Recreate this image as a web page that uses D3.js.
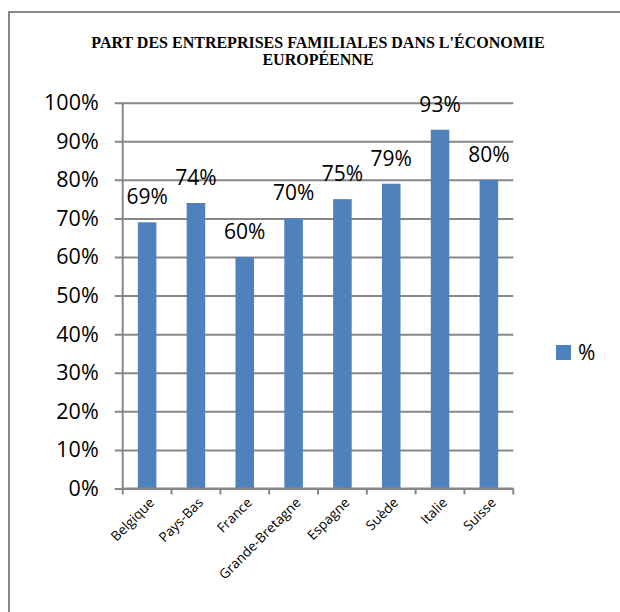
<!DOCTYPE html>
<html>
<head>
<meta charset="utf-8">
<script src="https://cdn.jsdelivr.net/npm/d3@7"></script>
<style>
  body { margin: 0; background: #fff; }
  svg { display: block; }
  .title { font-family: "Liberation Serif", "Times New Roman", serif; font-weight: bold; font-size: 16px; }
  .tick text, .value-label, .legend-label, .x-label { font-family: "Open Sans", sans-serif; fill: #000; }
</style>
</head>
<body>
<div id="wrapper"></div>
<script>
const countries = ["Belgique", "Pays-Bas", "France", "Grande-Bretagne", "Espagne", "Suède", "Italie", "Suisse"]
const shares = [69, 74, 60, 70, 75, 79, 93, 80]
const yTicks = [0, 10, 20, 30, 40, 50, 60, 70, 80, 90, 100]
const seriesName = "%"
const titleLines = ["PART DES ENTREPRISES FAMILIALES DANS L'ÉCONOMIE", "EUROPÉENNE"]

function drawChart() {

  // 1. Dimensions

  const dimensions = {
    width: 620,
    height: 612,
    margin: { top: 102.7, left: 122.7, right: 620 - 513.3, bottom: 612 - 488.5 },
  }
  dimensions.boundedWidth = dimensions.width - dimensions.margin.left - dimensions.margin.right
  dimensions.boundedHeight = dimensions.height - dimensions.margin.top - dimensions.margin.bottom

  const blue = "#4f81bd"
  const grey = "#878787"

  // 2. Canvas

  const wrapper = d3.select("#wrapper")
    .append("svg")
      .attr("width", dimensions.width)
      .attr("height", dimensions.height)

  // outer frame (right and bottom edges run off the page)
  wrapper.append("rect")
      .attr("x", 9)
      .attr("y", 12)
      .attr("width", 640)
      .attr("height", 640)
      .attr("fill", "none")
      .attr("stroke", grey)
      .attr("stroke-width", 2)

  const title = wrapper.append("text")
      .attr("class", "title")
      .attr("text-anchor", "middle")
  title.selectAll("tspan")
    .data(titleLines)
    .join("tspan")
      .attr("x", 318)
      .attr("y", (d, i) => 48 + i * 17)
      .text(d => d)

  const bounds = wrapper.append("g")
      .attr("transform", `translate(${dimensions.margin.left},${dimensions.margin.top})`)

  // 3. Scales

  const xScale = d3.scaleBand()
    .domain(countries)
    .range([0, dimensions.boundedWidth])
    .paddingInner(0.62)
    .paddingOuter(0.31)

  const yScale = d3.scaleLinear()
    .domain([0, 100])
    .range([dimensions.boundedHeight, 0])

  // 4. Gridlines + y axis

  const yAxisGenerator = d3.axisLeft(yScale)
    .tickValues(yTicks)
    .tickSize(-dimensions.boundedWidth)
    .tickSizeOuter(0)
    .tickFormat(d => d + "%")

  const yAxis = bounds.append("g")
    .call(yAxisGenerator)
  yAxis.select(".domain").remove()
  yAxis.selectAll(".tick line")
      .attr("x1", -8)
      .attr("stroke", grey)
      .attr("stroke-width", 2)
  yAxis.selectAll(".tick text")
      .attr("x", -24)
      .attr("font-size", 21.5)

  // 5. Bars

  bounds.append("g").selectAll("rect")
    .data(countries)
    .join("rect")
      .attr("x", d => xScale(d))
      .attr("y", (d, i) => yScale(shares[i]))
      .attr("width", xScale.bandwidth())
      .attr("height", (d, i) => dimensions.boundedHeight - yScale(shares[i]))
      .attr("fill", blue)

  bounds.append("g").selectAll("text")
    .data(countries)
    .join("text")
      .attr("class", "value-label")
      .attr("x", d => xScale(d) + xScale.bandwidth() / 2)
      .attr("y", (d, i) => yScale(shares[i]) - 18)
      .attr("text-anchor", "middle")
      .attr("font-size", 21)
      .text((d, i) => shares[i] + "%")

  // 6. x axis

  bounds.append("line")
      .attr("x1", 0)
      .attr("x2", 0)
      .attr("y1", 0)
      .attr("y2", dimensions.boundedHeight)
      .attr("stroke", grey)
      .attr("stroke-width", 2)

  const xAxis = bounds.append("g")
      .attr("transform", `translate(0,${dimensions.boundedHeight})`)
  xAxis.append("line")
      .attr("x1", 0)
      .attr("x2", dimensions.boundedWidth)
      .attr("stroke", grey)
      .attr("stroke-width", 2)

  const step = xScale.step()
  xAxis.selectAll(".x-tick")
    .data(d3.range(countries.length + 1))
    .join("line")
      .attr("class", "x-tick")
      .attr("x1", i => i * step)
      .attr("x2", i => i * step)
      .attr("y1", 0)
      .attr("y2", 6)
      .attr("stroke", grey)
      .attr("stroke-width", 2)

  xAxis.selectAll(".x-label")
    .data(countries)
    .join("text")
      .attr("class", "x-label")
      .attr("transform", d => `translate(${xScale(d) + xScale.bandwidth() / 2 + 8},${15}) rotate(-45)`)
      .attr("text-anchor", "end")
      .attr("font-size", 13.5)
      .text(d => d)

  // 7. Legend

  const legend = wrapper.append("g")
      .attr("transform", "translate(556,345)")
  legend.append("rect")
      .attr("width", 15)
      .attr("height", 15)
      .attr("fill", blue)
  legend.append("text")
      .attr("class", "legend-label")
      .attr("x", 22)
      .attr("y", 15)
      .attr("font-size", 21)
      .text(seriesName)
}
drawChart()
</script>
</body>
</html>
